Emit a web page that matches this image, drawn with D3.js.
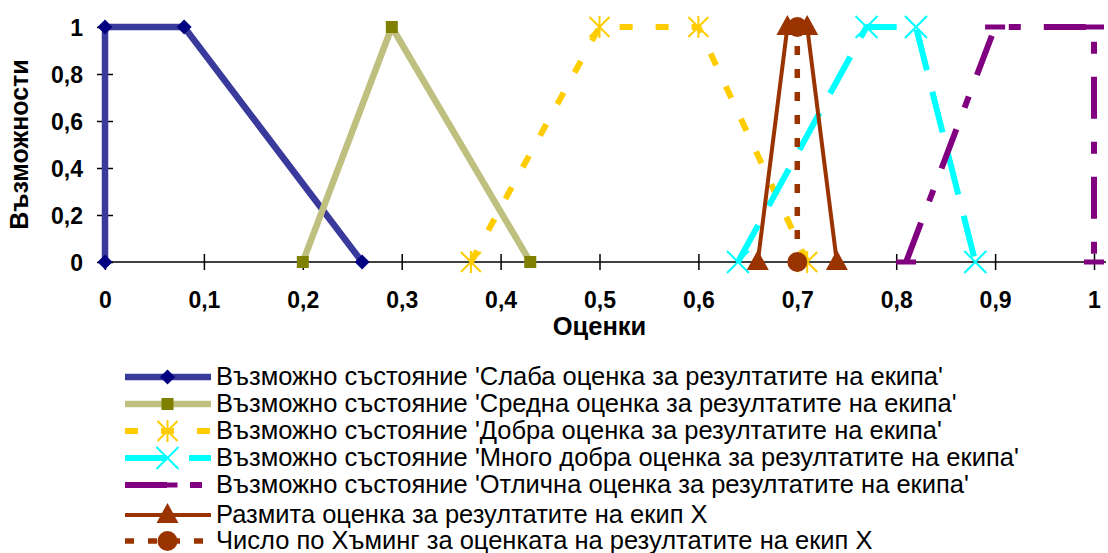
<!DOCTYPE html>
<html><head><meta charset="utf-8">
<script src="https://cdn.jsdelivr.net/npm/d3@7"></script>
<style>
html,body{margin:0;padding:0;background:#fff;}
svg{display:block;font-family:"Liberation Sans",Arial,sans-serif;}
</style></head><body>
<svg id="c" width="1108" height="553"></svg>
<script>
// ---- data ----
const xTicks = [0,0.1,0.2,0.3,0.4,0.5,0.6,0.7,0.8,0.9,1];
const yTicks = [0,0.2,0.4,0.6,0.8,1];
const slabaX = [0,0,0.08,0.26];
const slabaY = [0,1,1,0];
const srednaX = [0.2,0.29,0.43];
const srednaY = [0,1,0];
const dobraX = [0.37,0.5,0.6,0.71];
const dobraY = [0,1,1,0];
const mnogoX = [0.64,0.77,0.82,0.88];
const mnogoY = [0,1,1,0];
const otlX = [0.81,0.9,1,1];
const otlY = [0,1,1,0];
const razX = [0.66,0.69,0.71,0.74];
const razY = [0,1,1,0];
const hamX = [0.7,0.7];
const hamY = [0,1];
const legendLabels = [
 "Възможно състояние 'Слаба оценка за резултатите на екипа'",
 "Възможно състояние 'Средна оценка за резултатите на екипа'",
 "Възможно състояние 'Добра оценка за резултатите на екипа'",
 "Възможно състояние 'Много добра оценка за резултатите на екипа'",
 "Възможно състояние 'Отлична оценка за резултатите на екипа'",
 "Размита оценка за резултатите на екип X",
 "Число по Хъминг за оценката на резултатите на екип X"
];
const xTitle = "Оценки";
const yTitle = "Възможности";

// ---- styles ----
const series = [
 {xs:slabaX, ys:slabaY, color:"#3a3a9c", w:6.5, dash:null, marker:"diamond", mcolor:"#000080"},
 {xs:srednaX, ys:srednaY, color:"#bfbf80", w:6.5, dash:null, marker:"square", mcolor:"#808000"},
 {xs:dobraX, ys:dobraY, color:"#ffcc00", w:6, dash:"13,23", marker:"star", mcolor:"#ffcc00"},
 {xs:mnogoX, ys:mnogoY, color:"#00ffff", w:6, dash:"42,22", marker:"x", mcolor:"#00ffff"},
 {xs:otlX, ys:otlY, color:"#800080", w:6, dash:"42,23,12,23", marker:"dash", mcolor:"#800080"},
 {xs:razX, ys:razY, color:"#993300", w:4, dash:null, marker:"triangle", mcolor:"#993300"},
 {xs:hamX, ys:hamY, color:"#993300", w:5.5, dash:"9,14", marker:"circle", mcolor:"#993300"}
];

const svg = d3.select("#c");
const x = d3.scaleLinear().domain([0,1]).range([105,1094]);
const y = d3.scaleLinear().domain([0,1]).range([262,27]);
const fmt = d=>d3.format(".1~f")(d).replace(".",",");

// axes
svg.append("line").attr("x1",x(0)).attr("x2",1106).attr("y1",y(0)).attr("y2",y(0)).attr("stroke","#000").attr("stroke-width",1.5);
const xAxis = d3.axisBottom(x).tickValues(xTicks).tickSizeInner(8).tickSizeOuter(0).tickFormat(fmt);
const gx = svg.append("g").attr("transform",`translate(0,${y(0)})`).call(xAxis);
gx.selectAll(".tick line").attr("stroke","#000").attr("stroke-width",1.5).attr("y1",-8);
gx.selectAll(".tick text").attr("font-size",23).attr("font-weight","bold").attr("fill","#000")
  .attr("y",46).attr("dy",null).attr("font-family","'Liberation Sans',Arial,sans-serif");

const yAxis = d3.axisLeft(y).tickValues(yTicks).tickSizeInner(8).tickSizeOuter(0).tickFormat(fmt);
const gy = svg.append("g").attr("transform",`translate(${x(0)},0)`).call(yAxis);
gy.selectAll(".tick line").attr("stroke","#000").attr("stroke-width",1.5).attr("x1",8);
gy.selectAll(".tick text").attr("font-size",23).attr("font-weight","bold").attr("fill","#000")
  .attr("x",-22).attr("dy","0.36em").attr("font-family","'Liberation Sans',Arial,sans-serif");
svg.selectAll(".domain").remove();

// titles
svg.append("text").attr("x",(x(0)+x(1))/2).attr("y",335).attr("text-anchor","middle")
  .attr("font-size",25.5).attr("font-weight","bold").text(xTitle);
svg.append("text").attr("transform",`translate(28,${(y(0)+y(1))/2}) rotate(-90)`).attr("text-anchor","middle")
  .attr("font-size",25).attr("font-weight","bold").text(yTitle);

function drawMarker(g, type, color, cx, cy){
  if(type==="diamond") g.append("path").attr("d",`M${cx},${cy-7.5}L${cx+7.5},${cy}L${cx},${cy+7.5}L${cx-7.5},${cy}Z`).attr("fill",color);
  else if(type==="square") g.append("rect").attr("x",cx-6).attr("y",cy-6).attr("width",12).attr("height",12).attr("fill",color);
  else if(type==="star") g.append("path").attr("d",`M${cx-10},${cy-10}L${cx+10},${cy+10}M${cx+10},${cy-10}L${cx-10},${cy+10}M${cx},${cy-11}L${cx},${cy+11}`).attr("stroke",color).attr("stroke-width",2).attr("fill","none");
  else if(type==="x") g.append("path").attr("d",`M${cx-11},${cy-11}L${cx+11},${cy+11}M${cx+11},${cy-11}L${cx-11},${cy+11}`).attr("stroke",color).attr("stroke-width",2).attr("fill","none");
  else if(type==="dash") g.append("rect").attr("x",cx-10).attr("y",cy-2.5).attr("width",20).attr("height",5).attr("fill",color);
  else if(type==="triangle") g.append("path").attr("d",`M${cx},${cy-12}L${cx+11},${cy+8}L${cx-11},${cy+8}Z`).attr("fill",color);
  else if(type==="circle") g.append("circle").attr("cx",cx).attr("cy",cy).attr("r",10).attr("fill",color);
}

const line = d3.line().x(d=>x(d[0])).y(d=>y(d[1]));
series.forEach(s=>{
  const pts = s.xs.map((v,i)=>[v,s.ys[i]]);
  const g = svg.append("g");
  g.append("path").attr("d",line(pts)).attr("fill","none").attr("stroke",s.color)
   .attr("stroke-width",s.w).attr("stroke-dasharray",s.dash).attr("stroke-linejoin","round");
  pts.forEach(p=>drawMarker(g,s.marker,s.mcolor,x(p[0]),y(p[1])));
});

// legend
const legY = [377,404,431,458,485,515,541];
series.forEach((s,i)=>{
  const g = svg.append("g");
  const ly = legY[i];
  g.append("line").attr("x1",125).attr("x2",211).attr("y1",ly).attr("y2",ly)
   .attr("stroke",s.color).attr("stroke-width",s.w).attr("stroke-dasharray",s.dash);
  drawMarker(g,s.marker,s.mcolor,167.5,ly);
  g.append("text").attr("x",216).attr("y",ly+7.5).attr("font-size",25.5)
   .attr("fill","#000").text(legendLabels[i]);
});
</script>
</body></html>
